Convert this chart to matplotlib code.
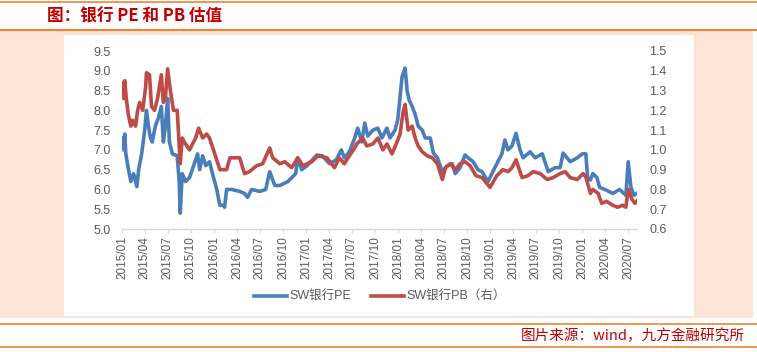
import matplotlib
matplotlib.use("Agg")
import matplotlib.pyplot as plt
import matplotlib.dates as mdates
from matplotlib.lines import Line2D
from matplotlib.patches import Rectangle
import pandas as pd

plt.rcParams['font.family'] = ['Liberation Sans', 'Noto Sans CJK SC']

# SW银行PE（左轴）
pe_dates = [
    '2015-01-05', '2015-01-08', '2015-01-12', '2015-01-16', '2015-01-24', '2015-02-05',
    '2015-02-16', '2015-03-01', '2015-03-08', '2015-03-20', '2015-04-01', '2015-04-08',
    '2015-04-16', '2015-04-24', '2015-05-01', '2015-05-13', '2015-05-25', '2015-06-06',
    '2015-06-14', '2015-06-22', '2015-07-01', '2015-07-08', '2015-07-20', '2015-08-08',
    '2015-08-16', '2015-08-20', '2015-08-28', '2015-09-10', '2015-09-26', '2015-10-12',
    '2015-10-28', '2015-11-05', '2015-11-17', '2015-11-29', '2015-12-14', '2015-12-30',
    '2016-01-12', '2016-01-24', '2016-02-06', '2016-02-12', '2016-02-20', '2016-03-11',
    '2016-04-12', '2016-05-01', '2016-05-13', '2016-05-29', '2016-07-01', '2016-07-24',
    '2016-08-09', '2016-08-29', '2016-09-18', '2016-10-20', '2016-11-20', '2016-11-28',
    '2016-12-14', '2017-01-04', '2017-02-12', '2017-03-06', '2017-04-03', '2017-04-30',
    '2017-05-20', '2017-06-01', '2017-06-21', '2017-07-12', '2017-07-24', '2017-08-09',
    '2017-08-21', '2017-09-02', '2017-09-22', '2017-10-12', '2017-10-28', '2017-11-17',
    '2017-11-29', '2017-12-19', '2017-12-30', '2018-01-16', '2018-01-28', '2018-02-05',
    '2018-02-13', '2018-02-25', '2018-03-09', '2018-03-21', '2018-04-06', '2018-04-18',
    '2018-05-08', '2018-05-20', '2018-06-05', '2018-06-25', '2018-07-14', '2018-08-03',
    '2018-08-15', '2018-09-03', '2018-09-23', '2018-10-05', '2018-10-25', '2018-11-13',
    '2018-11-29', '2018-12-23', '2019-01-19', '2019-02-16', '2019-02-28', '2019-03-12',
    '2019-03-28', '2019-04-13', '2019-04-29', '2019-05-11', '2019-06-08', '2019-06-28',
    '2019-07-26', '2019-08-19', '2019-09-15', '2019-10-05', '2019-10-17', '2019-11-14',
    '2019-12-12', '2020-01-01', '2020-01-15', '2020-01-22', '2020-02-02', '2020-02-12',
    '2020-02-28', '2020-03-10', '2020-03-30', '2020-05-01', '2020-05-28', '2020-06-22',
    '2020-07-01', '2020-07-12', '2020-07-24', '2020-08-04',
]
pe_values = [
    7.3, 7.0, 7.4, 6.9, 6.6, 6.2,
    6.4, 6.07, 6.5, 6.9, 7.5, 8.0,
    7.6, 7.3, 7.2, 7.6, 7.8, 8.1,
    7.2, 7.6, 8.3, 7.2, 6.9, 6.85,
    6.2, 5.4, 6.4, 6.2, 6.3, 6.6,
    6.9, 6.5, 6.85, 6.6, 6.7, 6.3,
    6.0, 5.6, 5.6, 5.55, 6.0, 6.0,
    5.95, 5.9, 5.8, 6.0, 5.95, 6.0,
    6.45, 6.1, 6.1, 6.2, 6.4, 6.8,
    6.5, 6.6, 6.87, 6.85, 6.65, 6.75,
    7.0, 6.8, 6.95, 7.3, 7.55, 7.2,
    7.68, 7.35, 7.5, 7.55, 7.3, 7.55,
    7.3, 7.5, 7.76, 8.85, 9.07, 8.5,
    8.26, 8.1, 7.9, 7.6, 7.5, 7.3,
    7.3, 6.92, 6.8, 6.45, 6.6, 6.65,
    6.4, 6.55, 6.87, 6.8, 6.7, 6.5,
    6.45, 6.2, 6.55, 6.9, 7.25, 7.0,
    7.1, 7.42, 7.0, 6.8, 6.95, 6.8,
    6.9, 6.45, 6.55, 6.55, 6.92, 6.7,
    6.8, 6.9, 6.9, 6.3, 6.24, 6.4,
    6.3, 6.05, 6.0, 5.9, 6.0, 5.85,
    6.7, 6.05, 5.85, 5.9,
]

# SW银行PB（右轴）
pb_dates = [
    '2015-01-05', '2015-01-08', '2015-01-12', '2015-01-18', '2015-01-26', '2015-02-05',
    '2015-02-13', '2015-02-24', '2015-03-04', '2015-03-12', '2015-03-24', '2015-04-05',
    '2015-04-08', '2015-04-20', '2015-04-28', '2015-05-10', '2015-05-22', '2015-06-06',
    '2015-06-14', '2015-06-22', '2015-07-01', '2015-07-12', '2015-07-24', '2015-08-08',
    '2015-08-20', '2015-08-28', '2015-09-05', '2015-09-26', '2015-10-20', '2015-11-01',
    '2015-11-17', '2015-12-03', '2015-12-14', '2016-01-04', '2016-01-24', '2016-02-20',
    '2016-03-04', '2016-03-24', '2016-04-12', '2016-05-01', '2016-05-21', '2016-06-18',
    '2016-07-12', '2016-08-09', '2016-08-21', '2016-09-18', '2016-10-08', '2016-11-04',
    '2016-11-28', '2016-12-18', '2017-01-23', '2017-02-16', '2017-03-24', '2017-04-23',
    '2017-05-12', '2017-06-01', '2017-06-21', '2017-07-12', '2017-07-20', '2017-08-13',
    '2017-08-29', '2017-09-22', '2017-10-12', '2017-11-01', '2017-11-17', '2017-12-07',
    '2017-12-27', '2018-01-08', '2018-01-20', '2018-01-28', '2018-02-09', '2018-02-25',
    '2018-03-09', '2018-03-21', '2018-04-06', '2018-04-26', '2018-05-16', '2018-06-05',
    '2018-06-25', '2018-07-07', '2018-07-27', '2018-08-15', '2018-09-03', '2018-09-23',
    '2018-10-13', '2018-11-05', '2018-11-29', '2018-12-31', '2019-01-27', '2019-02-20',
    '2019-03-12', '2019-03-28', '2019-04-13', '2019-05-07', '2019-05-31', '2019-06-20',
    '2019-07-18', '2019-08-15', '2019-09-07', '2019-10-05', '2019-10-25', '2019-11-14',
    '2019-12-12', '2020-01-04', '2020-01-16', '2020-02-02', '2020-02-12', '2020-03-04',
    '2020-03-18', '2020-04-06', '2020-05-01', '2020-05-20', '2020-06-09', '2020-06-22',
    '2020-07-01', '2020-07-16', '2020-07-28', '2020-08-04',
]
pb_values = [
    1.34, 1.26, 1.35, 1.26, 1.18, 1.12,
    1.15, 1.12, 1.20, 1.24, 1.20, 1.32,
    1.39, 1.38, 1.22, 1.20, 1.26, 1.38,
    1.24, 1.26, 1.41, 1.30, 1.20, 1.20,
    0.93, 1.06, 1.04, 1.00, 1.06, 1.11,
    1.06, 1.08, 1.06, 0.98, 0.90, 0.90,
    0.96, 0.96, 0.96, 0.88, 0.89, 0.92,
    0.93, 1.01, 0.96, 0.93, 0.94, 0.91,
    0.96, 0.92, 0.94, 0.97, 0.96, 0.91,
    0.96, 0.93, 0.97, 1.01, 1.03, 1.06,
    1.02, 1.03, 1.06, 1.00, 1.03, 0.98,
    1.04, 1.08, 1.19, 1.23, 1.10, 1.12,
    1.06, 1.02, 0.99, 0.97, 0.96, 0.93,
    0.85, 0.91, 0.93, 0.90, 0.93, 0.94,
    0.92, 0.87, 0.86, 0.81, 0.87, 0.90,
    0.89, 0.91, 0.95, 0.86, 0.87, 0.89,
    0.88, 0.85, 0.86, 0.88, 0.89, 0.86,
    0.85, 0.88, 0.86, 0.78, 0.80, 0.78,
    0.73, 0.74, 0.72, 0.71, 0.72, 0.71,
    0.80, 0.75, 0.73, 0.74,
]

left_ticks = [5.0, 5.5, 6.0, 6.5, 7.0, 7.5, 8.0, 8.5, 9.0, 9.5]
right_ticks = [0.6, 0.7, 0.8, 0.9, 1.0, 1.1, 1.2, 1.3, 1.4, 1.5]

title = "图：银行 PE 和 PB 估值"
source = "图片来源：wind，九方金融研究所"
pe_label = "SW银行PE"
pb_label = "SW银行PB（右）"

blue = '#4A7EBB'
red = '#BE4B48'
orange = '#EE8434'
peach = '#FCE4D6'
dark_red = '#C00000'
grey_text = '#595959'
grey_line = '#D9D9D9'

W, H = 757, 352
fig = plt.figure(figsize=(W / 100, H / 100), dpi=100)


def fx(px):
    return px / W


def fy(py):
    return 1 - py / H


# 背景框（放在坐标轴之下）
fig.patches.append(Rectangle((0, fy(318)), fx(753), fy(31) - fy(318),
                             transform=fig.transFigure, facecolor=peach,
                             edgecolor='none', zorder=-3))
fig.patches.append(Rectangle((fx(64), fy(316)), fx(694) - fx(64), fy(35) - fy(316),
                             transform=fig.transFigure, facecolor='white',
                             edgecolor='none', zorder=-2))
for py, lw in [(2, 1.2), (30, 1.5), (324, 1.2), (347, 1.2)]:
    fig.lines.append(Line2D([0, 1], [fy(py), fy(py)], transform=fig.transFigure,
                            color=orange, linewidth=lw, zorder=1))

fig.text(fx(47), fy(16), title, color=dark_red, fontsize=12, fontweight='bold',
         family=['Noto Sans CJK SC'], ha='left', va='center')
fig.text(fx(745), fy(336), source, color=dark_red, fontsize=10.5,
         family=['Noto Sans CJK SC'], ha='right', va='center')

ax = fig.add_axes([fx(122), fy(229), fx(637) - fx(122), fy(51) - fy(229)])
ax.set_facecolor('none')
ax2 = ax.twinx()

pe_x = pd.to_datetime(pe_dates)
pb_x = pd.to_datetime(pb_dates)
ax.plot(pe_x, pe_values, color=blue, linewidth=2.6, solid_joinstyle='round')
ax2.plot(pb_x, pb_values, color=red, linewidth=2.6, solid_joinstyle='round')

ax.set_xlim(pd.Timestamp('2015-01-01'), pd.Timestamp('2020-08-05'))
ax.set_ylim(5.0, 9.5)
ax2.set_ylim(0.6, 1.5)
ax.set_yticks(left_ticks)
ax2.set_yticks(right_ticks)
ax.set_yticklabels([f'{v:.1f}' for v in left_ticks])
ax2.set_yticklabels([f'{v:.1f}' for v in right_ticks])

ax.xaxis.set_major_locator(mdates.MonthLocator(bymonth=[1, 4, 7, 10]))
ax.xaxis.set_major_formatter(mdates.DateFormatter('%Y/%m'))
ax.tick_params(axis='x', rotation=90, labelsize=8.5, colors=grey_text,
               length=3, width=0.8, color=grey_line, pad=2)
ax.tick_params(axis='y', labelsize=9, colors=grey_text, length=0, pad=8)
ax2.tick_params(axis='y', labelsize=9, colors=grey_text, length=0, pad=9)

for a in (ax, ax2):
    for side in ('top', 'right', 'left', 'bottom'):
        a.spines[side].set_visible(False)
ax.spines['bottom'].set_visible(True)
ax.spines['bottom'].set_color(grey_line)
ax.spines['bottom'].set_linewidth(1.0)

handles = [Line2D([], [], color=blue, linewidth=2.6),
           Line2D([], [], color=red, linewidth=2.6)]
fig.legend(handles, [pe_label, pb_label], loc='center',
           bbox_to_anchor=(fx(380), fy(297)), ncol=2, frameon=False,
           fontsize=9, handlelength=2.6, handletextpad=0.2, columnspacing=1.6,
           labelcolor=grey_text)

fig.savefig('out.png', dpi=100)
